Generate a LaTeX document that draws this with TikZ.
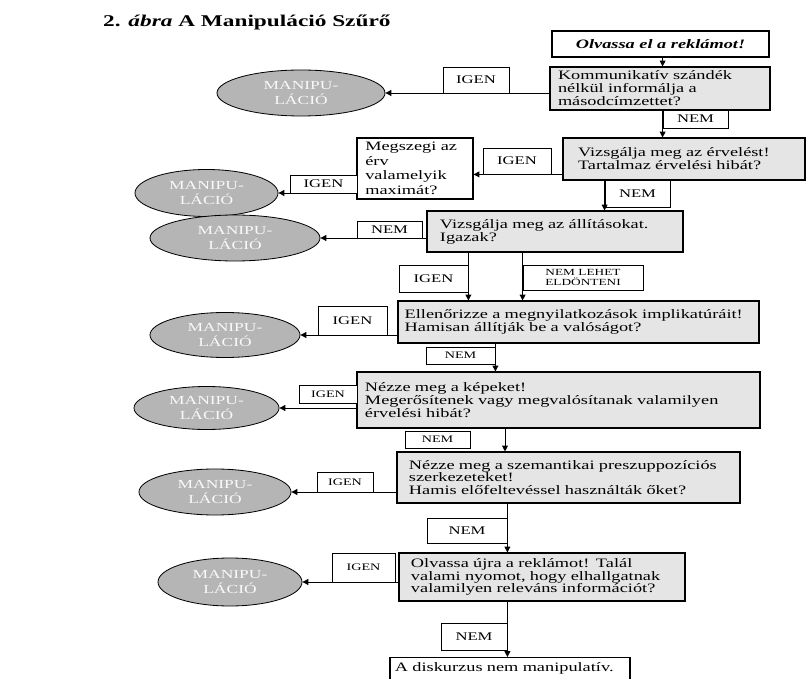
\documentclass[tikz,border=0pt]{standalone}
\usepackage{fontspec}
\setmainfont[FakeStretch=1.42]{Liberation Serif}
\usetikzlibrary{arrows.meta,shapes.geometric,calc}
\newcommand{\boxfont}{\fontsize{11}{11}\selectfont}
\newcommand{\lblfont}{\fontsize{10}{10}\selectfont}
\newcommand{\smallfont}{\fontsize{8.5}{8.5}\selectfont}

\begin{document}
\begin{tikzpicture}[x=0.03cm, y=-0.03cm,
  gbox/.style={draw, line width=0.9pt, fill=gray!20, align=left, inner ysep=1pt, font=\boxfont},
  wbox/.style={gbox, fill=white},
  lbl/.style={draw, line width=0.7pt, fill=white, inner sep=0pt, font=\lblfont},
  manip/.style={ellipse, draw, line width=0.7pt, fill=gray!58, inner sep=0pt, text=gray!5, align=center, font=\fontsize{10.5}{12}\selectfont},
  arr/.style={line width=0.8pt, -{Triangle[length=5pt,width=5pt]}}]
\useasboundingbox (0,0) rectangle (806,679);
\clip (0,0) rectangle (806,679);

% title
\node[anchor=base west, inner sep=0pt, font=\fontsize{14}{15}\selectfont\bfseries] (title) at (103,27) {2. \textit{ábra} A Manipuláció Szűrő};

% question boxes
\node[wbox, align=center, minimum width=6.51cm, minimum height=0.78cm, font=\boxfont\bfseries\itshape] (read) at (660.5,44) {Olvassa el a reklámot!};
\node[gbox, text width=6.12cm, inner xsep=0.24cm, minimum height=1.29cm] (komm) at (660,88.5) {Kommunikatív szándék\\nélkül informálja a\\másodcímzettet?};
\node[gbox, text width=6.36cm, inner xsep=0.45cm, minimum height=1.26cm] (erv) at (684,159) {Vizsgálja meg az érvelést!\\Tartalmaz érvelési hibát?};
\node[wbox, text width=2.98cm, inner xsep=0.25cm, minimum height=1.83cm, font=\fontsize{11}{12.5}\selectfont] (megsz) at (415,168.5) {Megszegi az\\érv\\valamelyik\\maximát?};
\node[gbox, text width=6.9cm, inner xsep=0.39cm, minimum height=1.23cm] (allit) at (555,231.5) {Vizsgálja meg az állításokat.\\Igazak?};
\node[gbox, text width=10.43cm, inner xsep=0.2cm, minimum height=1.26cm] (impl) at (578.5,322) {Ellenőrizze a megnyilatkozások implikatúráit!\\Hamisan állítják be a valóságot?};
\node[gbox, text width=11.61cm, inner xsep=0.24cm, minimum height=1.68cm] (kep) at (558.5,400) {Nézze meg a képeket!\\Megerősítenek vagy megvalósítanak valamilyen\\érvelési hibát?};
\node[gbox, text width=9.57cm, inner xsep=0.36cm, minimum height=1.53cm] (szem) at (568.5,477.5) {Nézze meg a szemantikai preszuppozíciós\\szerkezeteket!\\Hamis előfeltevéssel használták őket?};
\node[gbox, text width=7.86cm, inner xsep=0.36cm, minimum height=1.44cm] (ujra) at (542,577) {Olvassa újra a reklámot! Talál\\valami nyomot, hogy elhallgatnak\\valamilyen releváns információt?};
\node[wbox, anchor=north, text width=6.9cm, inner xsep=0.15cm, inner ysep=4pt, text depth=0.8cm] (vege) at (510,657) {A diskurzus nem manipulatív.};

% outcomes
\node[manip, minimum width=5.04cm, minimum height=1.38cm] (ell1) at (301,93) {MANIPU-\\LÁCIÓ};
\node[manip, minimum width=4.29cm, minimum height=1.41cm] (ell2) at (206.5,193) {MANIPU-\\LÁCIÓ};
\node[manip, minimum width=5.1cm, minimum height=1.38cm] (ell3) at (235,238) {MANIPU-\\LÁCIÓ};
\node[manip, minimum width=4.5cm, minimum height=1.35cm] (ell4) at (225,335) {MANIPU-\\LÁCIÓ};
\node[manip, minimum width=4.35cm, minimum height=1.29cm] (ell5) at (206.5,408) {MANIPU-\\LÁCIÓ};
\node[manip, minimum width=4.56cm, minimum height=1.38cm] (ell6) at (215,492) {MANIPU-\\LÁCIÓ};
\node[manip, minimum width=4.32cm, minimum height=1.44cm] (ell7) at (230,582) {MANIPU-\\LÁCIÓ};

% answer labels
\node[lbl, minimum width=1.98cm, minimum height=0.78cm] (igen1) at (476,80) {IGEN};
\node[lbl, minimum width=1.95cm, minimum height=0.54cm] (nem1) at (695.5,119) {NEM};
\node[lbl, minimum width=2.04cm, minimum height=0.78cm] (igen2) at (517,161) {IGEN};
\node[lbl, minimum width=2.01cm, minimum height=0.54cm] (igen3) at (323.5,184) {IGEN};
\node[lbl, minimum width=1.95cm, minimum height=0.81cm] (nem2) at (637.5,193.5) {NEM};
\node[lbl, minimum width=1.95cm, minimum height=0.51cm] (nem3) at (389.5,229.5) {NEM};
\node[lbl, minimum width=2.07cm, minimum height=0.81cm] (igen4) at (433.5,278.5) {IGEN};
\node[lbl, minimum width=3.6cm, minimum height=0.75cm, align=center, font=\fontsize{8}{8.5}\selectfont] (nemleh) at (583,277.5) {NEM LEHET\\ELDÖNTENI};
\node[lbl, minimum width=2.07cm, minimum height=0.87cm] (igen5) at (352.5,320.5) {IGEN};
\node[lbl, minimum width=2.07cm, minimum height=0.51cm, font=\smallfont] (nem4) at (460.5,355.5) {NEM};
\node[lbl, minimum width=1.74cm, minimum height=0.54cm, font=\smallfont] (igen6) at (328,394) {IGEN};
\node[lbl, minimum width=1.95cm, minimum height=0.51cm, font=\smallfont] (nem5) at (437.5,439.5) {NEM};
\node[lbl, minimum width=1.68cm, minimum height=0.6cm, font=\smallfont] (igen7) at (345,482) {IGEN};
\node[lbl, minimum width=2.4cm, minimum height=0.75cm] (nem6) at (467,530.5) {NEM};
\node[lbl, minimum width=1.89cm, minimum height=0.87cm, font=\smallfont] (igen8) at (363.5,567.5) {IGEN};
\node[lbl, minimum width=1.98cm, minimum height=0.81cm] (nem7) at (474,636.5) {NEM};
\coordinate (d5) at (505,440);

% connectors
\draw[arr] (read.south -| nem1.west) -- (komm.north -| nem1.west);
\draw[arr] (komm.west |- ell1.east) -- (ell1.east);
\draw[arr] (komm.south -| nem1.west) -- (erv.north -| nem1.west);
\draw[arr] (erv.west |- igen2.south) -- (megsz.east |- igen2.south);
\draw[arr] (megsz.west |- ell2.east) -- (ell2.east);
\draw[arr] (erv.south -| nem2.west) -- (allit.north -| nem2.west);
\draw[arr] (allit.west |- ell3.east) -- (ell3.east);
\draw[arr] (allit.south -| igen4.east) -- (impl.north -| igen4.east);
\draw[arr] (allit.south -| nemleh.west) -- (impl.north -| nemleh.west);
\draw[arr] (impl.west |- ell4.east) -- (ell4.east);
\draw[arr] (impl.south -| nem4.east) -- (kep.north -| nem4.east);
\draw[arr] (kep.west |- ell5.east) -- (ell5.east);
\draw[arr] (kep.south -| d5) -- (szem.north -| d5);
\draw[arr] (szem.west |- ell6.east) -- (ell6.east);
\draw[arr] (szem.south -| nem6.east) -- (ujra.north -| nem6.east);
\draw[arr] (ujra.west |- ell7.east) -- (ell7.east);
\draw[arr] (ujra.south -| nem7.east) -- (vege.north -| nem7.east);
\end{tikzpicture}
\end{document}
